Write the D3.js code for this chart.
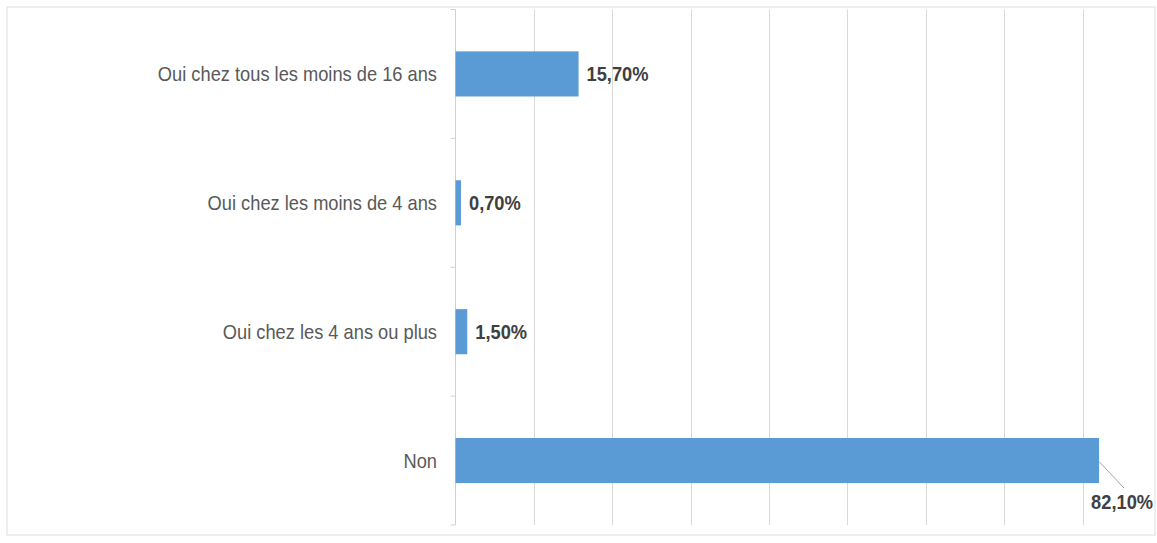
<!DOCTYPE html>
<html>
<head>
<meta charset="utf-8">
<script src="https://cdn.jsdelivr.net/npm/d3@7"></script>
<style>
  html, body { margin: 0; padding: 0; background: #ffffff; }
  svg { display: block; }
  .cat { font-family: "Liberation Sans", Arial, sans-serif; font-size: 21px; fill: #595959; }
  .val { font-family: "Liberation Sans", Arial, sans-serif; font-size: 21px; font-weight: bold; fill: #404040; }
</style>
</head>
<body>
<svg id="chart" width="1157" height="543"></svg>
<script>
// Réponses (top to bottom) and their share in percent
const categories = [
  "Oui chez tous les moins de 16 ans",
  "Oui chez les moins de 4 ans",
  "Oui chez les 4 ans ou plus",
  "Non"
];
const values = [15.7, 0.7, 1.5, 82.1];
const gridTicks = [0, 10, 20, 30, 40, 50, 60, 70, 80, 90];

const svg = d3.select("#chart");

// Plot area
const plotLeft = 455.5, plotTop = 9.5, plotBottom = 525;
const x = d3.scaleLinear().domain([0, 90]).range([plotLeft, 1161]);
const y = d3.scaleBand().domain(categories).range([plotTop, plotBottom]).paddingInner(0.65).paddingOuter(0.325);

// Horizontal squeeze to get a narrow typeface look
const narrow = 0.87;

const fmt = v => d3.format(".2f")(v).replace(".", ",") + "%";

// Outer frame
svg.append("rect")
  .attr("x", 7).attr("y", 7).attr("width", 1148).attr("height", 528)
  .attr("fill", "none").attr("stroke", "#dedede").attr("stroke-width", 1);

// Vertical gridlines
svg.append("g").selectAll("line")
  .data(gridTicks.slice(1))
  .join("line")
  .attr("x1", d => Math.round(x(d)) + 0.5).attr("x2", d => Math.round(x(d)) + 0.5)
  .attr("y1", plotTop).attr("y2", plotBottom)
  .attr("stroke", "#d9d9d9").attr("stroke-width", 1);

// Category axis with small ticks at band boundaries
const axis = svg.append("g").attr("transform", `translate(${plotLeft},0)`);
axis.append("line").attr("x1", 0).attr("x2", 0).attr("y1", plotTop).attr("y2", plotBottom)
  .attr("stroke", "#d0d0d0");
const step = y.step();
const bounds = d3.range(categories.length + 1).map(i => plotTop + i * step);
axis.selectAll("line.tick").data(bounds).join("line").attr("class", "tick")
  .attr("x1", -5).attr("x2", 0).attr("y1", d => d).attr("y2", d => d)
  .attr("stroke", "#d0d0d0");

// Category labels
svg.append("g").attr("transform", `scale(${narrow},1)`)
  .selectAll("text")
  .data(categories)
  .join("text")
  .attr("class", "cat")
  .attr("x", 437 / narrow)
  .attr("y", d => y(d) + y.bandwidth() / 2)
  .attr("dy", "0.35em")
  .attr("text-anchor", "end")
  .text(d => d);

// Bars
const rows = categories.map((c, i) => ({ c, v: values[i] }));
svg.append("g").selectAll("rect")
  .data(rows)
  .join("rect")
  .attr("x", x(0))
  .attr("y", d => y(d.c))
  .attr("width", d => x(d.v) - x(0))
  .attr("height", y.bandwidth())
  .attr("fill", "#5b9bd5");

// Value labels; the largest bar gets its label below with a leader line
const last = rows[rows.length - 1];
svg.append("g").attr("transform", `scale(${narrow},1)`)
  .selectAll("text")
  .data(rows)
  .join("text")
  .attr("class", "val")
  .attr("x", d => (d === last ? x(d.v) + 23 : x(d.v) + 8) / narrow)
  .attr("y", d => d === last ? y(d.c) + y.bandwidth() + 19 : y(d.c) + y.bandwidth() / 2)
  .attr("dy", "0.35em")
  .attr("text-anchor", d => d === last ? "middle" : "start")
  .text(d => fmt(d.v));

svg.append("line")
  .attr("x1", x(last.v)).attr("y1", y(last.c) + y.bandwidth() / 2 + 1)
  .attr("x2", x(last.v) + 25).attr("y2", y(last.c) + y.bandwidth() + 5)
  .attr("stroke", "#a6a6a6").attr("stroke-width", 1);
</script>
</body>
</html>
